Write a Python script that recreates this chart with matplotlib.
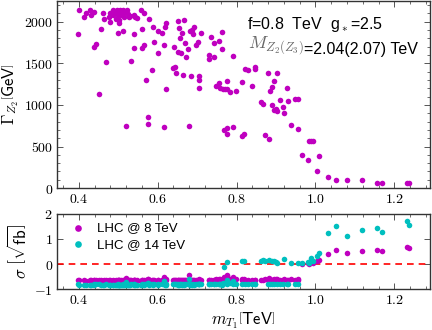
import matplotlib
matplotlib.use('Agg')
import matplotlib.pyplot as plt
from matplotlib.ticker import AutoMinorLocator, FuncFormatter
import numpy as np

plt.rcParams['mathtext.fontset'] = 'cm'

# scan points: T1 mass [TeV], Z2 width [GeV], significance at 8 / 14 TeV
m_T1 = [0.400, 0.397, 0.413, 0.419, 0.429, 0.431, 0.438, 0.439, 0.445, 0.452,
        0.456, 0.461, 0.463, 0.470, 0.476, 0.480, 0.480, 0.486, 0.488, 0.492,
        0.495, 0.497, 0.499, 0.502, 0.503, 0.505, 0.507, 0.510, 0.513, 0.516,
        0.518, 0.522, 0.525, 0.530, 0.501, 0.499, 0.513, 0.519, 0.532, 0.528,
        0.539, 0.543, 0.541, 0.547, 0.540, 0.558, 0.565, 0.560, 0.560, 0.565,
        0.570, 0.579, 0.576, 0.576, 0.586, 0.591, 0.589, 0.602, 0.602, 0.611,
        0.616, 0.618, 0.617, 0.620, 0.621, 0.639, 0.643, 0.646, 0.642, 0.652,
        0.654, 0.652, 0.656, 0.663, 0.660, 0.664, 0.666, 0.669, 0.673, 0.679,
        0.677, 0.681, 0.685, 0.688, 0.691, 0.690, 0.698, 0.702, 0.704, 0.704,
        0.706, 0.711, 0.729, 0.729, 0.735, 0.744, 0.744, 0.756, 0.762, 0.762,
        0.748, 0.756, 0.758, 0.765, 0.772, 0.777, 0.777, 0.784, 0.792, 0.798,
        0.769, 0.775, 0.777, 0.790, 0.813, 0.819, 0.813, 0.821, 0.830, 0.839,
        0.847, 0.847, 0.861, 0.867, 0.872, 0.881, 0.882, 0.886, 0.891, 0.891,
        0.895, 0.895, 0.899, 0.902, 0.903, 0.909, 0.918, 0.920, 0.928, 0.931,
        0.939, 0.949, 0.955, 0.956, 0.966, 0.981, 0.983, 0.990, 0.993, 1.010,
        1.004, 1.031, 1.053, 1.080, 1.117, 1.155, 1.170, 1.231, 1.237]

gamma_Z2 = [2140, 1852, 2060, 2100, 2140, 2080, 2120, 1700, 1732, 1128,
            1908, 2100, 2028, 1520, 2060, 2100, 2000, 2140, 2080, 2120,
            2028, 2140, 2080, 2120, 2020, 2140, 2080, 2108, 2140, 2060,
            2116, 2140, 2092, 2068, 1980, 1860, 1892, 748, 1532, 2060,
            2080, 2052, 1848, 2040, 1688, 2140, 2100, 1908, 1688, 1720,
            1300, 2028, 860, 768, 1420, 1760, 1932, 1892, 1628, 1860,
            740, 1940, 1720, 1196, 1988, 1440, 1460, 1380, 1700, 2012,
            1920, 1640, 1800, 1868, 1620, 1360, 2020, 1748, 1580, 748,
            1668, 1892, 1348, 1900, 1940, 1852, 1720, 1760, 1200, 1348,
            1300, 1860, 1600, 1548, 1820, 1748, 1572, 1772, 1872, 1676,
            1228, 1260, 1200, 1188, 1188, 1288, 1188, 1160, 1592, 1168,
            700, 728, 652, 740, 628, 648, 1276, 1432, 1420, 1232,
            1452, 1432, 1040, 1008, 640, 1388, 588, 1172, 1212, 1000,
            1288, 940, 948, 1380, 928, 1060, 972, 900, 1200, 1048,
            760, 1068, 1068, 708, 400, 340, 568, 572, 572, 388,
            208, 128, 100, 100, 92, 60, 60, 60, 60]

sigma_8 = [-0.65, -0.64, -0.65, -0.66, -0.65, -0.64, -0.65, -0.63, -0.64, -0.62,
           -0.65, -0.66, -0.65, -0.63, -0.65, -0.66, -0.65, -0.66, -0.65, -0.66,
           -0.65, -0.66, -0.65, -0.66, -0.65, -0.66, -0.65, -0.66, -0.66, -0.65,
           -0.66, -0.66, -0.65, -0.65, -0.65, -0.64, -0.64, -0.55, -0.63, -0.65,
           -0.65, -0.65, -0.64, -0.65, -0.63, -0.66, -0.66, -0.64, -0.63, -0.63,
           -0.62, -0.65, -0.60, -0.58, -0.62, -0.64, -0.65, -0.64, -0.63, -0.64,
           -0.53, -0.65, -0.63, -0.61, -0.65, -0.62, -0.62, -0.62, -0.63, -0.65,
           -0.65, -0.63, -0.64, -0.64, -0.63, -0.62, -0.65, -0.64, -0.63, -0.45,
           -0.63, -0.64, -0.62, -0.65, -0.65, -0.64, -0.63, -0.64, -0.61, -0.62,
           -0.62, -0.64, -0.63, -0.63, -0.64, -0.64, -0.63, -0.64, -0.64, -0.63,
           -0.61, -0.61, -0.61, -0.60, -0.60, -0.61, -0.60, -0.60, -0.63, -0.61,
           -0.50, -0.45, -0.48, -0.52, -0.58, -0.60, -0.63, -0.64, -0.64, -0.63,
           -0.64, -0.64, -0.62, -0.62, -0.58, -0.64, -0.57, -0.63, -0.63, -0.62,
           -0.63, -0.61, -0.61, -0.64, -0.61, -0.62, -0.62, -0.60, -0.63, -0.62,
           -0.58, -0.63, -0.63, -0.60, 0.00, 0.02, 0.00, 0.15, 0.05, 0.16,
           0.12, 0.41, 0.56, 0.43, 0.52, 0.55, 0.52, 0.66, 0.62]

sigma_14 = [-0.82, -0.81, -0.82, -0.83, -0.82, -0.82, -0.83, -0.80, -0.81, -0.79,
            -0.82, -0.83, -0.82, -0.80, -0.82, -0.83, -0.82, -0.83, -0.82, -0.83,
            -0.82, -0.83, -0.82, -0.83, -0.82, -0.83, -0.82, -0.83, -0.83, -0.82,
            -0.83, -0.83, -0.82, -0.82, -0.82, -0.81, -0.81, -0.70, -0.80, -0.82,
            -0.82, -0.82, -0.81, -0.82, -0.80, -0.83, -0.83, -0.82, -0.80, -0.81,
            -0.79, -0.82, -0.76, -0.74, -0.80, -0.81, -0.82, -0.82, -0.80, -0.81,
            -0.66, -0.82, -0.81, -0.78, -0.82, -0.80, -0.80, -0.79, -0.81, -0.82,
            -0.82, -0.80, -0.81, -0.82, -0.80, -0.79, -0.82, -0.81, -0.80, -0.60,
            -0.80, -0.82, -0.79, -0.82, -0.82, -0.81, -0.81, -0.81, -0.78, -0.79,
            -0.79, -0.81, -0.80, -0.80, -0.81, -0.81, -0.80, -0.81, -0.82, -0.80,
            -0.78, -0.78, -0.78, -0.77, -0.77, -0.78, -0.77, -0.77, -0.80, -0.78,
            -0.11, -0.62, 0.08, -0.66, 0.10, 0.12, -0.80, -0.81, -0.81, -0.80,
            -0.81, -0.81, 0.10, 0.14, 0.12, -0.81, 0.14, -0.80, -0.80, 0.12,
            -0.81, 0.10, 0.08, -0.81, 0.05, -0.79, -0.78, 0.19, -0.80, -0.79,
            0.05, -0.80, -0.80, 0.05, 0.05, 0.08, 0.05, 0.25, 0.10, 0.43,
            0.32, 1.23, 1.50, 1.10, 1.37, 1.43, 1.26, 1.70, 1.55]

x_ticks = [0.4, 0.6, 0.8, 1.0, 1.2]
y_ticks_top = [0, 500, 1000, 1500, 2000]
y_ticks_bot = [-1, 0, 1, 2]

sans = ['Liberation Sans', 'DejaVu Sans']
edge = '#333333'


def style(ax):
    for sp in ax.spines.values():
        sp.set_color(edge)
        sp.set_linewidth(1.0)
    ax.tick_params(which='both', direction='in', top=True, right=True,
                   color='#555555', labelsize=10, pad=3)
    ax.tick_params(which='major', length=4, width=0.7)
    ax.tick_params(which='minor', length=2, width=0.6)
    ax.xaxis.set_minor_locator(AutoMinorLocator(5))
    ax.set_xlim(0.345, 1.29)
    ax.set_xticks(x_ticks)
    ax.xaxis.set_major_formatter(FuncFormatter(lambda v, p: '$%.1f$' % v))
    ax.yaxis.set_major_formatter(FuncFormatter(lambda v, p: '$%g$' % v))


fig = plt.figure(figsize=(4.32, 3.3), dpi=100)
ax1 = fig.add_axes([0.132, 0.430, 0.863, 0.567])
ax2 = fig.add_axes([0.132, 0.124, 0.863, 0.228])

# top: width of Z2
ax1.scatter(m_T1, gamma_Z2, s=16, color='m', linewidths=0, zorder=3)
style(ax1)
ax1.set_ylim(0, 2250)
ax1.set_yticks(y_ticks_top)
ax1.yaxis.set_minor_locator(AutoMinorLocator(5))
ax1.set_ylabel(r'$\Gamma_{Z_2}\left[\mathsf{GeV}\right]$', fontsize=12, labelpad=2)
ax1.text(0.509, 0.877, 'f=0.8  TeV  g$_*$=2.5', transform=ax1.transAxes,
         fontsize=11.5, va='center', family=sans)
t_m = ax1.text(0.512, 0.745, r'$M_{Z_2(Z_3)}$', transform=ax1.transAxes,
               fontsize=13, va='baseline', color='#666666')
ax1.annotate('=2.04(2.07) TeV', xy=(1, 0), xycoords=t_m, xytext=(0, 0),
             textcoords='offset points', fontsize=11.5, va='bottom',
             family=sans)

# bottom: significance
ax2.scatter(m_T1, sigma_8, s=16, color='m', linewidths=0, zorder=3,
            label='LHC @ 8 TeV')
ax2.scatter(m_T1, sigma_14, s=16, color='c', linewidths=0, zorder=4,
            label='LHC @ 14 TeV')
ax2.axhline(0, color='r', ls='--', lw=1.2, dashes=(4, 3), zorder=2)
style(ax2)
ax2.set_ylim(-1, 2)
ax2.set_yticks(y_ticks_bot)
ax2.set_ylabel(r'$\sigma\ \left[\sqrt{\mathsf{fb}}\right]$', fontsize=12, labelpad=2)
ax2.set_xlabel(r'$m_{T_1}\left[\mathsf{TeV}\right]$', fontsize=12, labelpad=2)
ax2.legend(loc='upper left', frameon=False, prop={'family': sans, 'size': 9.5},
           handletextpad=0.4, borderaxespad=0.2, labelspacing=0.35,
           markerscale=1.2)

fig.savefig('out.png', dpi=100)
